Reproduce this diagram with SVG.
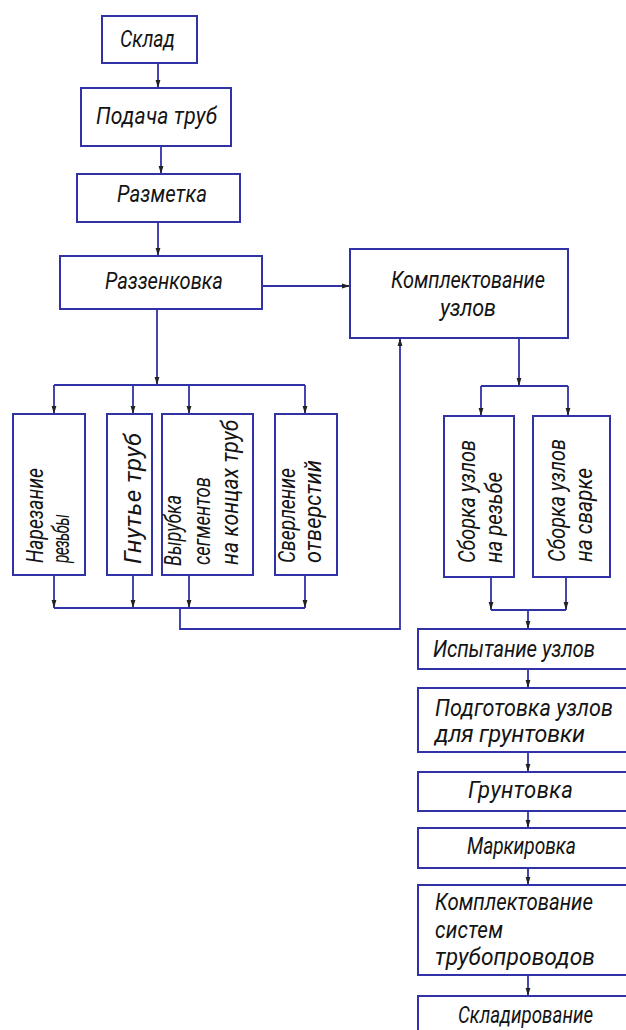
<svg xmlns="http://www.w3.org/2000/svg" width="626" height="1030" viewBox="0 0 626 1030">
<style>
.b{fill:#fff;stroke:#3131a8;stroke-width:2}
.c{fill:none;stroke:#3131a8;stroke-width:1.8}
.a{marker-end:url(#ah)}
.t{font-family:Roboto,"DejaVu Sans",sans-serif;font-style:italic;font-weight:400;font-size:24px;fill:#141414}
</style>
<defs>
<marker id="ah" viewBox="0 0 8 6" refX="8" refY="3" markerWidth="8" markerHeight="6" markerUnits="userSpaceOnUse" orient="auto">
<path d="M0,0.6 L8,3 L0,5.4 Z" fill="#222"/>
</marker>
</defs>
<rect width="626" height="1030" fill="#fff"/>
<g id="connectors">
<path class="c a" d="M158,63 V88"/>
<path class="c a" d="M161,146 V174"/>
<path class="c a" d="M158,222 V256"/>
<path class="c a" d="M262,286 H350"/>
<path class="c a" d="M157,309 V385"/>
<path class="c" d="M54,385 H305"/>
<path class="c a" d="M54,385 V414"/>
<path class="c a" d="M133,385 V414"/>
<path class="c a" d="M189,385 V414"/>
<path class="c a" d="M305,385 V414"/>
<path class="c a" d="M54,575 V608"/>
<path class="c a" d="M133,575 V608"/>
<path class="c a" d="M189,575 V608"/>
<path class="c a" d="M305,575 V608"/>
<path class="c" d="M54,608 H305"/>
<path class="c a" d="M180,608 V629 H400 V338"/>
<path class="c a" d="M519,338 V386"/>
<path class="c" d="M481,386 H568"/>
<path class="c a" d="M481,386 V416"/>
<path class="c a" d="M568,386 V416"/>
<path class="c a" d="M491,577 V610"/>
<path class="c a" d="M566,577 V610"/>
<path class="c" d="M491,610 H566"/>
<path class="c a" d="M528,610 V629"/>
<path class="c a" d="M528,669 V688"/>
<path class="c a" d="M528,752 V772"/>
<path class="c a" d="M528,811 V828"/>
<path class="c a" d="M528,868 V885"/>
<path class="c a" d="M528,975 V996"/>
</g>
<g id="sklad"><rect class="b" x="102" y="16" width="95" height="47"/><text class="t" transform="translate(120,47) scale(0.81,1)" textLength="67.9" lengthAdjust="spacing">Склад</text></g>
<g id="podacha"><rect class="b" x="81" y="88" width="150" height="58"/><text class="t" transform="translate(96,124) scale(0.88,1)" textLength="137.5" lengthAdjust="spacing">Подача труб</text></g>
<g id="razmetka"><rect class="b" x="77" y="174" width="163" height="48"/><text class="t" transform="translate(117,202) scale(0.85,1)" textLength="105.9" lengthAdjust="spacing">Разметка</text></g>
<g id="razzenkovka"><rect class="b" x="60" y="256" width="202" height="53"/><text class="t" transform="translate(105,289) scale(0.84,1)" textLength="140.5" lengthAdjust="spacing">Раззенковка</text></g>
<g id="komplekt-uzlov"><rect class="b" x="350" y="249" width="218" height="89"/><text class="t" transform="translate(391,288) scale(0.83,1)" textLength="185.5" lengthAdjust="spacing">Комплектование</text><text class="t" transform="translate(440,316) scale(0.9,1)" textLength="62.2" lengthAdjust="spacing">узлов</text></g>
<g id="narezanie"><rect class="b" x="13" y="414" width="72" height="161"/><text class="t" transform="translate(43,563) rotate(-90) scale(0.8,1)" textLength="118.7" lengthAdjust="spacing">Нарезание</text><text class="t" transform="translate(69,563) rotate(-90) scale(0.65,1)" textLength="75.4" lengthAdjust="spacing">резьбы</text></g>
<g id="gnutie"><rect class="b" x="107" y="414" width="45" height="161"/><text class="t" transform="translate(141,564) rotate(-90)" textLength="131" lengthAdjust="spacing">Гнутье труб</text></g>
<g id="vyrubka"><rect class="b" x="162" y="414" width="91" height="161"/><text class="t" transform="translate(181,566) rotate(-90) scale(0.75,1)" textLength="94.7" lengthAdjust="spacing">Вырубка</text><text class="t" transform="translate(210,565) rotate(-90) scale(0.77,1)" textLength="114.3" lengthAdjust="spacing">сегментов</text><text class="t" transform="translate(238,565) rotate(-90) scale(0.88,1)" textLength="164.8" lengthAdjust="spacing">на концах труб</text></g>
<g id="sverlenie"><rect class="b" x="275" y="414" width="62" height="161"/><text class="t" transform="translate(295,563) rotate(-90) scale(0.8,1)" textLength="118.7" lengthAdjust="spacing">Сверление</text><text class="t" transform="translate(321,563) rotate(-90) scale(0.9,1)" textLength="114.4" lengthAdjust="spacing">отверстий</text></g>
<g id="sborka-rezba"><rect class="b" x="444" y="416" width="70" height="161"/><text class="t" transform="translate(475,563) rotate(-90) scale(0.83,1)" textLength="148.2" lengthAdjust="spacing">Сборка узлов</text><text class="t" transform="translate(502,563) rotate(-90) scale(0.85,1)" textLength="107" lengthAdjust="spacing">на резьбе</text></g>
<g id="sborka-svarka"><rect class="b" x="533" y="416" width="77" height="161"/><text class="t" transform="translate(565,562) rotate(-90) scale(0.83,1)" textLength="148.2" lengthAdjust="spacing">Сборка узлов</text><text class="t" transform="translate(592,562) rotate(-90) scale(0.87,1)" textLength="108" lengthAdjust="spacing">на сварке</text></g>
<g id="ispytanie"><rect class="b" x="418" y="629" width="230" height="40"/><text class="t" transform="translate(433,657) scale(0.85,1)" textLength="190.6" lengthAdjust="spacing">Испытание узлов</text></g>
<g id="podgotovka"><rect class="b" x="418" y="688" width="230" height="64"/><text class="t" transform="translate(435,716) scale(0.9,1)" textLength="197.8" lengthAdjust="spacing">Подготовка узлов</text><text class="t" transform="translate(435,742) scale(0.97,1)" textLength="154.6" lengthAdjust="spacing">для грунтовки</text></g>
<g id="gruntovka"><rect class="b" x="418" y="772" width="230" height="39"/><text class="t" transform="translate(468,798) scale(0.92,1)" textLength="114.1" lengthAdjust="spacing">Грунтовка</text></g>
<g id="markirovka"><rect class="b" x="418" y="828" width="230" height="40"/><text class="t" transform="translate(467,854) scale(0.8,1)" textLength="136.2" lengthAdjust="spacing">Маркировка</text></g>
<g id="komplekt-sistem"><rect class="b" x="418" y="885" width="230" height="90"/><text class="t" transform="translate(435,910) scale(0.85,1)" textLength="185.9" lengthAdjust="spacing">Комплектование</text><text class="t" transform="translate(435,938) scale(0.86,1)" textLength="79.1" lengthAdjust="spacing">систем</text><text class="t" transform="translate(435,965) scale(0.95,1)" textLength="168.4" lengthAdjust="spacing">трубопроводов</text></g>
<g id="skladirovanie"><rect class="b" x="418" y="996" width="230" height="50"/><text class="t" transform="translate(458,1023) scale(0.78,1)" textLength="173.1" lengthAdjust="spacing">Складирование</text></g>
</svg>
